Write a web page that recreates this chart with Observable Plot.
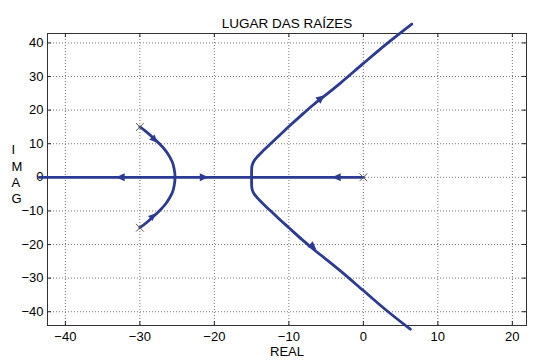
<!DOCTYPE html>
<html>
<head>
<meta charset="utf-8">
<script src="https://cdn.jsdelivr.net/npm/d3@7"></script>
<script src="https://cdn.jsdelivr.net/npm/@observablehq/plot@0.6"></script>
<style>
  html, body { margin: 0; padding: 0; background: #fff; }
  #chart svg { display: block; }
</style>
</head>
<body>
<div id="chart"></div>
<script>
// ---- data ----
const titleText = "LUGAR DAS RAÍZES";
const xLabelText = "REAL";
const yLabelText = "I\nM\nA\nG";
const xTicks = [-40, -30, -20, -10, 0, 10, 20];
const yTicks = [-40, -30, -20, -10, 0, 10, 20, 30, 40];

// open-loop poles [re, im]
const poles = [[-30, 15], [-30, -15], [0, 0]];

// locus branches [re, im]
const realAxisBranch = [[-43.5, 0], [0, 0]];
const upperLeftBranch = [[-30, 15], [-29, 13.3], [-28, 11.3], [-27.2, 9.6], [-26.5, 7.8], [-26, 6.1], [-25.6, 4.3], [-25.4, 2.5], [-25.3, 1], [-25.3, 0]];
const lowerLeftBranch = [[-30, -15], [-29, -13.3], [-28, -11.3], [-27.2, -9.6], [-26.5, -7.8], [-26, -6.1], [-25.6, -4.3], [-25.4, -2.5], [-25.3, -1], [-25.3, 0]];
const upperRightBranch = [[-15, 0], [-15, 2], [-14.95, 3.4], [-14.7, 4.8], [-14.2, 6.2], [-13.5, 7.8], [-12.5, 9.9], [-11.3, 12.4], [-10, 15.1], [-8.3, 18.5], [-6.7, 21.6], [-5, 24.6], [-3, 28.2], [0, 33.9], [3, 39.5], [6.5, 45.6]];
const lowerRightBranch = [[-15, 0], [-15, -2], [-14.95, -3.4], [-14.7, -4.8], [-14.2, -6.2], [-13.5, -7.8], [-12.5, -9.9], [-11.3, -12.4], [-10, -15], [-8.3, -18.4], [-6.7, -21.4], [-5, -24.4], [-3, -28], [0, -33.7], [3, -39.4], [6.3, -45.2]];

// arrowheads: [tailRe, tailIm, tipRe, tipIm] (tail lies along the tangent)
const arrowHeads = [
  [-29, 0, -33.2, 0],
  [-25, 0, -20.8, 0],
  [0, 0, -4.2, 0],
  [-30.2, 15.8, -27.6, 10.3],
  [-30.2, -15.6, -27.9, -10.8],
  [-10.5, 14.9, -5.2, 24.4],
  [-11.3, -11.6, -6.3, -21.6]
];

// ---- build ----
const color = "#2b3a92";
const branches = [
  ["real", realAxisBranch], ["ul", upperLeftBranch], ["ll", lowerLeftBranch],
  ["ur", upperRightBranch], ["lr", lowerRightBranch]
].flatMap(([name, pts]) => pts.map(([re, im]) => ({branch: name, re, im})));
const arrows = arrowHeads.map(([x1, y1, x2, y2]) => ({x1, y1, x2, y2}));
const poleData = poles.map(([re, im]) => ({re, im}));

const W = 536, H = 363, mt = 33, mb = 38, ml = 47, mr = 10;
const fw = W - ml - mr, fh = H - mt - mb;
const font = "'Liberation Sans', Arial, Helvetica, sans-serif";

const plot = Plot.plot({
  width: W,
  height: H,
  marginTop: mt,
  marginBottom: mb,
  marginLeft: ml,
  marginRight: mr,
  style: {fontFamily: font, fontSize: "13px", color: "#000", background: "#fff", overflow: "visible"},
  x: {domain: [-42.4, 21.9]},
  y: {domain: [-44.1, 42.8]},
  marks: [
    Plot.gridX(xTicks, {stroke: "#777", strokeOpacity: 1, strokeDasharray: "1,2"}),
    Plot.gridY(yTicks, {stroke: "#777", strokeOpacity: 1, strokeDasharray: "1,2"}),
    Plot.frame({stroke: "#333", strokeWidth: 1}),
    // inward ticks on all sides
    Plot.tickX(xTicks, {x: d => d, insetTop: fh - 4, stroke: "#222"}),
    Plot.tickX(xTicks, {x: d => d, insetBottom: fh - 4, stroke: "#222"}),
    Plot.tickY(yTicks, {y: d => d, insetRight: fw - 4, stroke: "#222"}),
    Plot.tickY(yTicks, {y: d => d, insetLeft: fw - 4, stroke: "#222"}),
    Plot.axisX(xTicks, {tickSize: 0, tickPadding: 6, fontSize: 13, label: null}),
    Plot.axisY(yTicks, {tickSize: 0, tickPadding: 4, fontSize: 13, label: null}),
    Plot.line(branches, {x: "re", y: "im", z: "branch", stroke: color, strokeWidth: 2.8, strokeLinejoin: "round", curve: "catmull-rom", clip: false}),
    Plot.arrow(arrows, {x1: "x1", y1: "y1", x2: "x2", y2: "y2", stroke: "none", fill: color, strokeWidth: 1.5, headLength: 9.5, headAngle: 50}),
    Plot.dot(poleData, {x: "re", y: "im", symbol: "times", r: 3.6, stroke: "#555", strokeWidth: 1}),
    Plot.text([titleText], {frameAnchor: "top", dy: -15, text: d => d, fontSize: 13.5, fill: "#000"}),
    Plot.text([xLabelText], {frameAnchor: "bottom", dy: 30.5, text: d => d, fontSize: 13, fill: "#000"}),
    Plot.text([yLabelText], {frameAnchor: "left", dx: -36, dy: -6, text: d => d, fontSize: 13, lineHeight: 1.25, fill: "#000"})
  ]
});
document.getElementById("chart").appendChild(plot);
</script>
</body>
</html>
